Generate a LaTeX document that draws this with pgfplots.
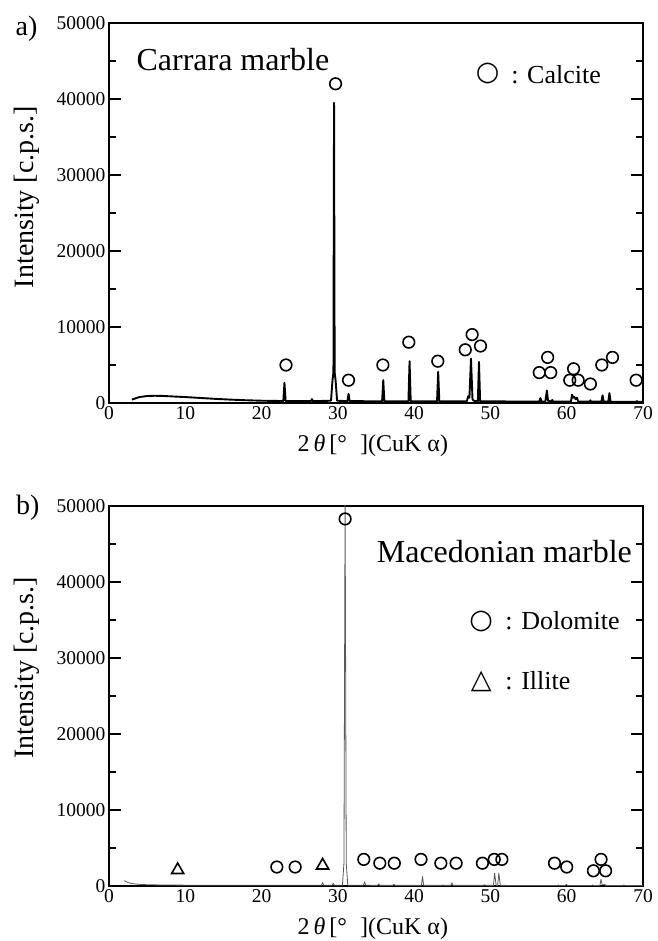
\documentclass[border=0pt]{standalone}
\usepackage{fontspec}
\setmainfont{Liberation Serif}
\newfontfamily\symfont{DejaVu Sans}
\usepackage{pgfplots}
\pgfplotsset{compat=1.18}

\pgfplotsset{
  xrd/.style={
    scale only axis, width=534pt, height=380pt,
    xmin=0, xmax=70, ymin=0, ymax=50000,
    clip mode=individual,
    xtick={0,10,...,70}, ytick={0,10000,...,50000},
    minor y tick num=1,
    tick align=inside,
    major tick length=12pt, minor tick length=7pt,
    x tick style={draw=none},
    every tick/.style={black, line width=1.4pt},
    axis line style={line width=1.6pt},
    scaled y ticks=false,
    tick label style={font=\fontsize{19.5}{20}\selectfont},
    /pgf/number format/assume math mode=true,
    y tick label style={/pgf/number format/.cd, fixed, set thousands separator={}},
    xlabel={2\,\textit{θ}\,[°\hspace{0.55em}](CuK α)},
    ylabel={Intensity [c.p.s.]},
    xlabel style={font=\fontsize{24}{26}\selectfont, at={(axis description cs:0.494,0)}, anchor=center, yshift=-43pt},
    ylabel style={font=\fontsize{28}{30}\selectfont, anchor=center},
  },
  peak/.style={only marks, mark=o, mark size=5.8pt, mark options={line width=1.6pt, fill=white, solid}},
  tri/.style={only marks, mark=triangle, mark size=7pt, mark options={line width=1.6pt, fill=white, solid}},
}

\begin{document}
\begin{tikzpicture}[x=1pt, y=1pt]
\useasboundingbox (0,0) rectangle (657,941);

% a) Carrara marble
\begin{axis}[xrd, at={(109pt,538pt)}, anchor=south west,
  ylabel style={at={(axis description cs:-0.154,0.542)}}]
\addplot[black, line width=1.9pt, line join=round] coordinates {
  (3,450) (3.5,620) (4,780) (5,920) (6,950) (7,930) (8,880) (10,780) (12,660) (14,540)
  (16,440) (18,360) (20,300) (22,270)
  (22.85,260) (23.0,2650) (23.15,260)
  (26.45,240) (26.6,500) (26.75,240)
  (29.1,300) (29.3,3000) (29.42,4000) (29.5,39500) (29.58,4000) (29.7,3000) (29.9,300)
  (31.25,240) (31.4,1200) (31.55,240)
  (35.8,230) (35.95,3000) (36.1,230)
  (39.25,220) (39.4,5500) (39.55,220)
  (43.0,210) (43.15,4100) (43.3,210)
  (46.9,220) (47.1,900) (47.25,700) (47.45,5850) (47.65,500) (47.8,300)
  (48.35,220) (48.5,5400) (48.65,220)
  (56.4,180) (56.55,650) (56.7,200) (57.2,200) (57.4,1650) (57.55,300) (58.0,200) (58.1,400) (58.2,180)
  (60.55,180) (60.7,1100) (60.85,700) (61.0,800) (61.15,500) (61.35,700) (61.5,180)
  (63.0,170) (63.1,350) (63.2,170)
  (64.55,170) (64.7,1000) (64.85,170)
  (65.45,170) (65.6,1300) (65.75,170)
  (69.05,160) (69.2,250) (69.35,160) (70,160)
};
\addplot[peak] coordinates {
  (23.2,5000) (29.7,42000) (31.4,3000) (35.9,5000) (39.3,8000) (43.1,5500)
  (46.7,7000) (47.6,9000) (48.7,7500) (56.4,4000) (57.5,6000) (57.9,4000)
  (60.4,3000) (60.9,4500) (61.5,3000) (63.1,2500) (64.6,5000) (66.0,6000) (69.1,3000)
};
\node[anchor=base west, font=\fontsize{32}{34}\selectfont] at (axis description cs:0.045,0.876) {Carrara marble};
\node[font=\symfont\fontsize{27}{29}\selectfont, inner sep=0pt] at (axis description cs:0.709,0.866) {○};
\node[anchor=base west, inner sep=0pt, font=\fontsize{26}{28}\selectfont] at (axis description cs:0.753,0.842) {: Calcite};
\node[font=\fontsize{28}{30}\selectfont, inner sep=0pt] at (axis description cs:-0.1545,0.984) {a)};
\end{axis}

% b) Macedonian marble
\begin{axis}[xrd, at={(109pt,55pt)}, anchor=south west,
  ylabel style={at={(axis description cs:-0.154,0.574)}}]
\addplot[black!65, line width=0.8pt, line join=round] coordinates {
  (2,700) (2.5,450) (3,320) (4,220) (5,170) (7,130) (10,110) (15,100) (20,90)
  (27.85,90) (28.0,450) (28.15,90)
  (29.25,90) (29.4,350) (29.55,90)
  (30.6,100) (30.8,3000) (30.95,51000) (31.1,3000) (31.3,100)
  (33.35,90) (33.5,550) (33.65,90)
  (35.2,80) (35.35,280) (35.5,80)
  (37.2,80) (37.35,230) (37.5,80)
  (40.95,80) (41.1,1250) (41.25,80)
  (43.7,80) (43.8,150) (43.9,80)
  (44.8,80) (44.95,420) (45.1,80)
  (49.1,80) (49.25,150) (49.4,80)
  (50.4,80) (50.55,1700) (50.75,80) (50.95,80) (51.1,1700) (51.3,80)
  (58.8,70) (58.9,150) (59.0,70)
  (59.8,70) (59.95,220) (60.1,70)
  (63.3,70) (63.4,150) (63.5,70)
  (64.35,70) (64.5,900) (64.65,150) (65.0,200) (65.15,70)
  (67.4,60) (67.5,150) (67.6,60) (70,60)
};
\addplot[peak] coordinates {
  (22.0,2500) (24.4,2500) (30.95,48300) (33.4,3500) (35.5,3000) (37.4,3000)
  (40.9,3500) (43.5,3000) (45.5,3000) (48.95,3000) (50.5,3500) (51.5,3500)
  (58.4,3000) (60.0,2500) (63.5,2000) (64.5,3500) (65.1,2000)
};
\addplot[tri] coordinates {(9.0,2100) (28.0,2700)};
\node[anchor=base west, font=\fontsize{32}{34}\selectfont] at (axis description cs:0.495,0.85) {Macedonian marble};
\node[font=\symfont\fontsize{27}{29}\selectfont, inner sep=0pt] at (axis description cs:0.697,0.697) {○};
\node[anchor=base west, inner sep=0pt, font=\fontsize{26}{28}\selectfont] at (axis description cs:0.742,0.674) {: Dolomite};
\node[font=\symfont\fontsize{27}{29}\selectfont, inner sep=0pt] at (axis description cs:0.697,0.539) {△};
\node[anchor=base west, inner sep=0pt, font=\fontsize{26}{28}\selectfont] at (axis description cs:0.742,0.516) {: Illite};
\node[font=\fontsize{28}{30}\selectfont, inner sep=0pt] at (axis description cs:-0.152,0.995) {b)};
\end{axis}
\end{tikzpicture}
\end{document}
